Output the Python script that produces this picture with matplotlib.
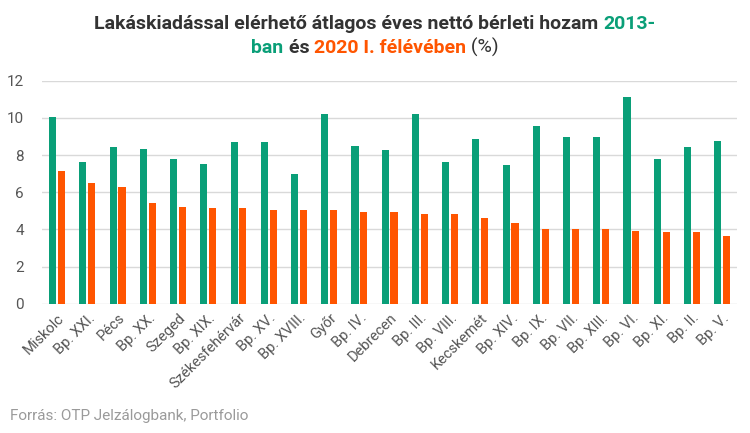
import matplotlib
matplotlib.use("Agg")
import matplotlib.pyplot as plt
import numpy as np
from matplotlib import font_manager as fm

categories = ["Miskolc", "Bp. XXI.", "Pécs", "Bp. XX.", "Szeged", "Bp. XIX.",
              "Székesfehérvár", "Bp. XV.", "Bp. XVIII.", "Győr", "Bp. IV.",
              "Debrecen", "Bp. III.", "Bp. VIII.", "Kecskemét", "Bp. XIV.",
              "Bp. IX.", "Bp. VII.", "Bp. XIII.", "Bp. VI.", "Bp. XI.",
              "Bp. II.", "Bp. V."]
yield_2013 = [10.05, 7.64, 8.41, 8.30, 7.80, 7.51, 8.70, 8.70, 6.96, 10.21, 8.48,
              8.25, 10.21, 7.64, 8.86, 7.46, 9.54, 8.98, 8.98, 11.11, 7.80, 8.41, 8.75]
yield_2020 = [7.14, 6.51, 6.30, 5.40, 5.22, 5.17, 5.13, 5.06, 5.06, 5.06, 4.94,
              4.94, 4.83, 4.83, 4.62, 4.33, 4.04, 4.04, 4.04, 3.93, 3.88, 3.88, 3.67]
yticks = [0, 2, 4, 6, 8, 10, 12]

GREEN = "#0a9f78"
ORANGE = "#ff5500"
DARK = "#333333"

names = {f.name for f in fm.fontManager.ttflist}
body_font = "Roboto" if "Roboto" in names else "DejaVu Sans"
title_font = body_font

fig = plt.figure(figsize=(7.5, 4.33), dpi=100)
ax = fig.add_axes([0.056, 0.298, 0.927, 0.516])

x = np.arange(len(categories))
w = 0.235
off = 0.146
ax.bar(x - off, yield_2013, width=w, color=GREEN, zorder=3)
ax.bar(x + off, yield_2020, width=w, color=ORANGE, zorder=3)

ax.set_xlim(-0.5, len(categories) - 0.5)
ax.set_ylim(0, 12)
ax.set_yticks(yticks)
ax.set_yticklabels([str(t) for t in yticks], fontsize=11, color="#555555", family=body_font)
ax.grid(axis="y", color="#d9d9d9", linewidth=1, zorder=0)
ax.tick_params(axis="y", length=0, pad=13)
ax.tick_params(axis="x", length=0, pad=5)
for s in ax.spines.values():
    s.set_visible(False)
ax.set_xticks(x)
ax.set_xticklabels(categories, rotation=45, ha="right", rotation_mode="anchor",
                   fontsize=10.5, color="#555555", family=body_font)

# Title composed of coloured parts, centred per line
lines = [
    [("Lakáskiadással elérhető átlagos éves nettó bérleti hozam ", DARK, "bold"),
     ("2013-", GREEN, "bold")],
    [("ban", GREEN, "bold"), (" és ", DARK, "bold"),
     ("2020 I. félévében", ORANGE, "bold"), (" (%)", DARK, "normal")],
]
fig.canvas.draw()
renderer = fig.canvas.get_renderer()
ys = [0.945, 0.890]
for parts, yv in zip(lines, ys):
    texts = []
    total = 0
    for s, c, wgt in parts:
        t = fig.text(0, yv, s, color=c, fontsize=14, fontweight=wgt,
                     family=title_font, va="center", ha="left")
        bb = t.get_window_extent(renderer=renderer)
        texts.append((t, bb.width))
        total += bb.width
    start = (fig.bbox.width - total) / 2
    for t, wd in texts:
        t.set_x(start / fig.bbox.width)
        start += wd

fig.text(0.013, 0.04, "Forrás: OTP Jelzálogbank, Portfolio", fontsize=11,
         color="#9a9a9a", family=body_font, ha="left", va="center")

fig.savefig("out.png", dpi=100, facecolor="white")
